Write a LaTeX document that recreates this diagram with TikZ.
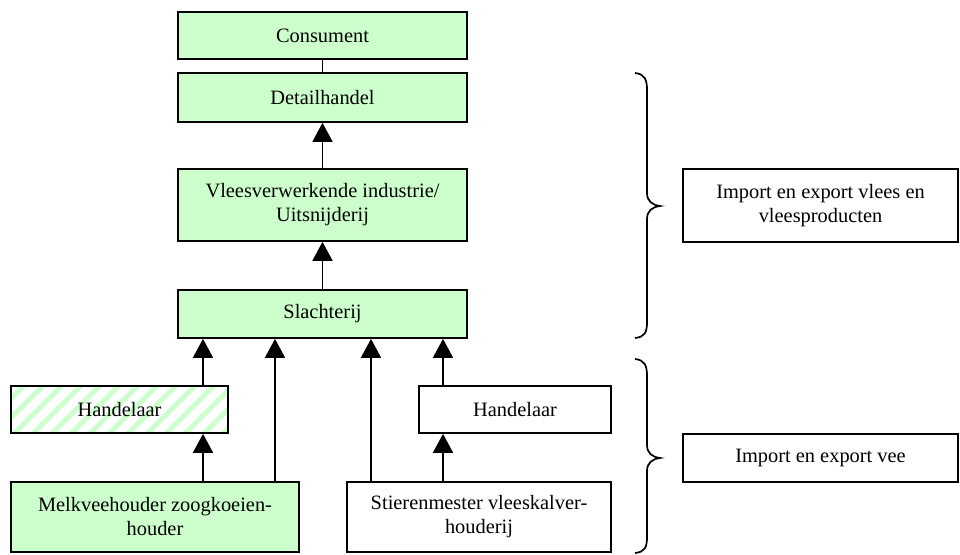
\documentclass[tikz,border=0pt]{standalone}
\usepackage{fontspec}
\setmainfont{Liberation Serif}
\usetikzlibrary{arrows.meta,backgrounds,calc}
\definecolor{lgreen}{HTML}{CCFFCC}
\begin{document}
\begin{tikzpicture}[x=1pt,y=-1pt,
  box/.style={draw=black,line width=1.7pt,rectangle,inner sep=0pt,align=center,
    font=\fontsize{20.4}{24}\selectfont},
  gbox/.style={box,fill=lgreen},
  wbox/.style={box,fill=white},
  arr/.style={line width=1.7pt,-{Triangle[width=20pt,length=19pt]}},
  conn/.style={line width=1.7pt},
  brace/.style={line width=1.7pt},
  stripe/.style={fill=lgreen}]
\useasboundingbox (0,0) rectangle (960,554);
\node[gbox,minimum width=289pt,minimum height=47pt] (cons) at (322.5,35.5) {Consument};
\node[gbox,minimum width=289pt,minimum height=49pt] (det) at (322.5,97.5) {Detailhandel};
\node[gbox,minimum width=289pt,minimum height=72pt] (vlees) at (322.5,205) {Vleesverwerkende industrie/\\Uitsnijderij};
\node[gbox,minimum width=289pt,minimum height=48pt] (slacht) at (322.5,314) {Slachterij};
\node[box,minimum width=217pt,minimum height=47pt] (handL) at (119.5,409.5) {Handelaar};
\node[gbox,minimum width=288pt,minimum height=70pt] (melk) at (155,517) {Melkveehouder zoogkoeien-\\houder};
\node[wbox,minimum width=192pt,minimum height=47pt] (handR) at (515,409.5) {Handelaar};
\node[wbox,minimum width=264pt,minimum height=70pt] (stier) at (479,517) {Stierenmester vleeskalver-\\houderij};
\node[wbox,minimum width=275pt,minimum height=73pt] (imp1) at (820.5,205.5) {Import en export vlees en\\vleesproducten};
\node[wbox,minimum width=275pt,minimum height=48pt] (imp2) at (820.5,458) {Import en export vee};
\begin{pgfonlayer}{background}
  \fill[white] (handL.south west) rectangle (handL.north east);
  \begin{scope}
    \clip (handL.south west) rectangle (handL.north east);
    \foreach \k in {-4,...,13}
      \fill[stripe] ([xshift=\k*19pt]handL.south west) -- ++(7,0) -- ++(50,-50) -- ++(-7,0) -- cycle;
  \end{scope}
\end{pgfonlayer}
\coordinate (xa) at (203,0);
\coordinate (xb) at (275,0);
\coordinate (xc) at (371,0);
\coordinate (xd) at (443,0);
\draw[conn] (det.north) -- (cons.south);
\draw[arr] (vlees.north) -- (det.south);
\draw[arr] (slacht.north) -- (vlees.south);
\draw[arr] (melk.north -| xa) -- (handL.south -| xa);
\draw[arr] (handL.north -| xa) -- (slacht.south -| xa);
\draw[arr] (melk.north -| xb) -- (slacht.south -| xb);
\draw[arr] (stier.north -| xc) -- (slacht.south -| xc);
\draw[arr] (stier.north -| xd) -- (handR.south -| xd);
\draw[arr] (handR.north -| xd) -- (slacht.south -| xd);
\draw[brace] (635,73) .. controls (645,74) and (647,80) .. (647,90) -- (647,193)
  .. controls (647,201) and (652,205) .. (660,206)
  .. controls (652,207) and (647,211) .. (647,219) -- (647,322)
  .. controls (647,332) and (645,337) .. (635,338);
\draw[brace] (635,359) .. controls (645,360) and (647,366) .. (647,376) -- (647,445)
  .. controls (647,453) and (652,457) .. (660,458)
  .. controls (652,459) and (647,463) .. (647,471) -- (647,537)
  .. controls (647,547) and (645,552) .. (635,553);
\end{tikzpicture}
\end{document}
